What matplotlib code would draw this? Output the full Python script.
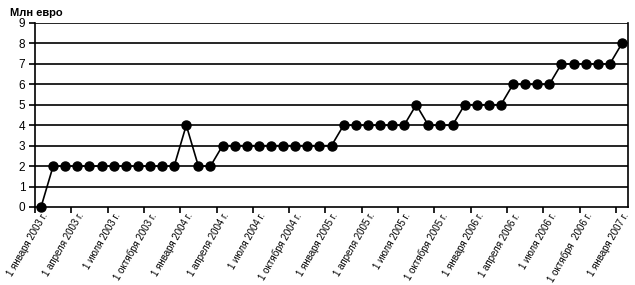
import numpy as np
import matplotlib
matplotlib.use("Agg")
import matplotlib.pyplot as plt

plt.rcParams['font.family'] = ['Liberation Sans', 'DejaVu Sans']

# monthly values, Jan 2003 .. Jan 2007 (mln euro)
values = [0, 2, 2, 2, 2, 2, 2, 2, 2, 2, 2, 2, 4, 2, 2,
          3, 3, 3, 3, 3, 3, 3, 3, 3, 3,
          4, 4, 4, 4, 4, 4, 5, 4, 4, 4,
          5, 5, 5, 5, 6, 6, 6, 6, 7, 7, 7, 7, 7, 8]
tick_labels = ["1 января 2003 г.", "1 апреля 2003 г.", "1 июля 2003 г.", "1 октября 2003 г.",
               "1 января 2004 г.", "1 апреля 2004 г.", "1 июля 2004 г.", "1 октября 2004 г.",
               "1 января 2005 г.", "1 апреля 2005 г.", "1 июля 2005 г.", "1 октября 2005 г.",
               "1 января 2006 г.", "1 апреля 2006 г.", "1 июля 2006 г.", "1 октября  2006 г.",
               "1 января 2007 г."]
y_ticks = list(range(0, 10))

x = np.arange(len(values))

fig = plt.figure(figsize=(6.35, 2.85), dpi=100)
ax = fig.add_axes([0.0551, 0.2737, 0.9339, 0.6456])

for yv in y_ticks[1:]:
    ax.axhline(yv, color='black', lw=1.2, zorder=1)

ax.plot(x, values, color='black', lw=1.2, marker='o', markersize=6.5, clip_on=False, zorder=3)

ax.set_xlim(-0.5, len(values) - 0.5)
ax.set_ylim(0, 9)
ax.set_yticks(y_ticks)
ax.set_yticklabels([str(v) for v in y_ticks], fontsize=8.5)

# tick marks at category boundaries, labels at every third category
ax.set_xticks(np.arange(-0.5, len(values) - 1, 3))
ax.set_xticklabels([])
ax.set_xticks(x[::3], minor=True)
ax.set_xticklabels(tick_labels, minor=True, rotation=60, ha='right', rotation_mode='anchor', fontsize=7)
ax.tick_params(axis='x', which='minor', length=0, pad=3)
ax.tick_params(axis='x', which='major', length=4, width=1.2, direction='out')
ax.tick_params(axis='y', length=4, width=1.2, direction='out', pad=3)

for side in ['left', 'bottom', 'right']:
    ax.spines[side].set_linewidth(1.2)
ax.spines['top'].set_visible(False)

fig.text(0.016, 0.955, "Млн евро", fontsize=8, fontweight='bold', va='center', ha='left')

fig.savefig("out.png", dpi=100)
